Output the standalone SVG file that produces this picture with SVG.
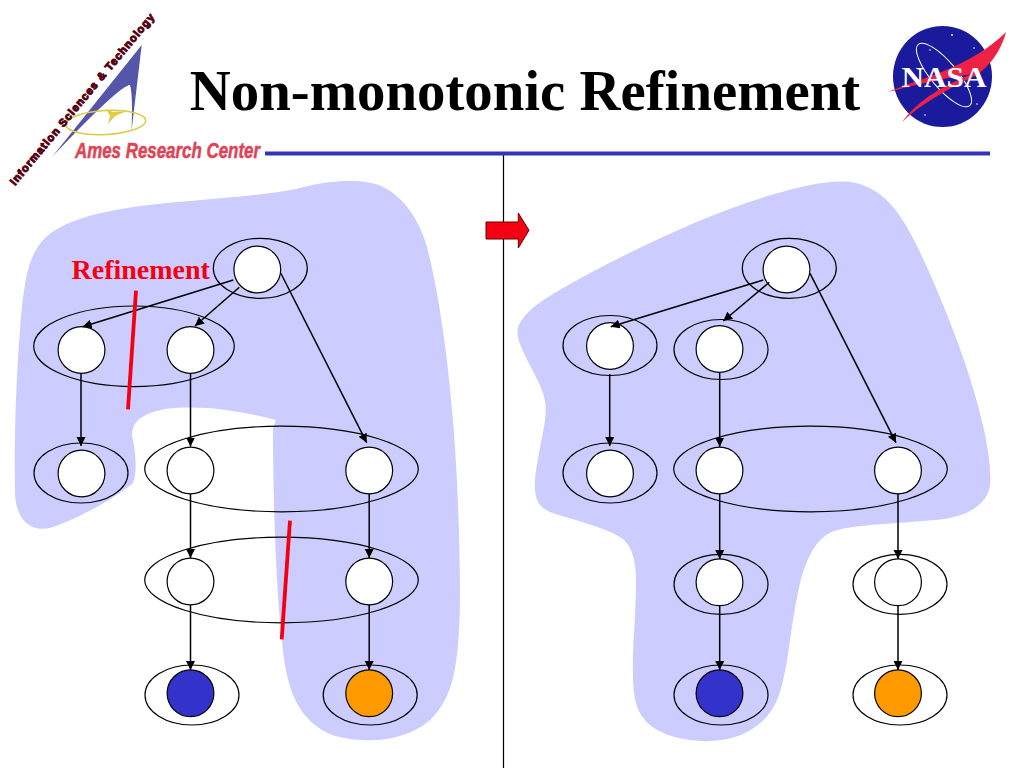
<svg xmlns="http://www.w3.org/2000/svg" width="1024" height="768" viewBox="0 0 1024 768">
<style>
.blob{fill:#ccccff;stroke:none}
.el{fill:none;stroke:#000;stroke-width:1.2}
.n{fill:#fff;stroke:#000;stroke-width:1.2}
.blue{fill:#3333cc}
.orange{fill:#ff9900}
.c{fill:none;stroke:#000;stroke-width:1.5;marker-end:url(#a)}
.red{stroke:#f40012;stroke-width:3.8;fill:none}
</style>
<defs><marker id="a" markerUnits="userSpaceOnUse" markerWidth="11" markerHeight="10" refX="9" refY="4.500" orient="auto"><path d="M0 0L9 4.500L0 9z" fill="#000"/></marker></defs>
<rect width="1024" height="768" fill="#fff"/>
<path class="blob" d="M276 420L273 428C273 500 276 590 282 640C286 690 298 722 335 736C370 745 410 740 432 718C452 697 459 670 460 600C460 540 457 460 452 410C447 350 438 290 427 247C418 215 400 195 383 187C365 178 330 180 300 188C280 193 240 197 167 203C120 208 70 215 45 238C28 255 24 280 20 330C16 380 14 440 15 495C17 520 30 532 50 528C80 518 115 498 133 483C138 470 135 450 132 435C132 420 145 413 165 409C205 404 245 412 276 420Z"/>
<path class="blob" d="M789 190Q743 202 693 223.500Q643 245 593 271.500Q543 298 530.500 310Q518 322 517.500 330Q517 338 522 349Q527 360 535 375Q543 390 545 401Q547 412 543.500 429.500Q540 447 536.500 467Q533 487 536.500 498.500Q540 510 558.500 515Q577 520 594.500 526Q612 532 620 537Q628 542 632 552.500Q636 563 636 581.500Q636 600 634 633.500Q632 667 633.500 688.500Q635 710 646 721.500Q657 733 678.500 738Q700 743 721.500 740Q743 737 758 725Q773 713 779 695Q785 677 789 647Q793 617 798 592Q803 567 811.500 552Q820 537 831.500 532Q843 527 876.500 524.500Q910 522 935 520Q960 518 973.500 509Q987 500 989.500 488.500Q992 477 987.500 448.500Q983 420 970 378.500Q957 337 933.500 282Q910 227 893.500 207.500Q877 188 856 183Q835 178 789 190Z"/>
<line x1="503.500" y1="155" x2="503.500" y2="768" stroke="#000" stroke-width="1.2"/>
<g id="title"><text x="525" y="110" font-family="'Liberation Serif',serif" font-weight="700" font-size="56.800" text-anchor="middle">Non-monotonic Refinement</text></g>
<line id="rule" x1="265" y1="153.500" x2="990" y2="153.500" stroke="#3333bb" stroke-width="4"/>
<g id="ames-logo">
<path d="M52 157L141.700 45L131.500 131Q133 95 130 85Q120 85 52 157Z" fill="#5555aa"/>
<ellipse cx="105.700" cy="122.500" rx="40" ry="12" fill="none" stroke="#ddcc44" stroke-width="1.600" transform="rotate(-3 105.700 122.500)"/>
<path d="M106 109L113 112L127 111L115 116L108 124L110 116Z" fill="#ddcc44"/>
<text x="75" y="158" font-family="'Liberation Sans',sans-serif" font-weight="700" font-style="italic" font-size="22" textLength="185" lengthAdjust="spacingAndGlyphs" fill="#dd4455" stroke="#dd4455" stroke-width=".5">Ames Research Center</text>
<text x="15" y="186" transform="rotate(-50.300 15 186)" font-family="'Liberation Sans',sans-serif" font-weight="700" font-size="11" textLength="219" lengthAdjust="spacing" fill="#550011" stroke="#550011" stroke-width="1">Information Sciences &amp; Technology</text>
</g>
<g id="nasa-logo">
<ellipse cx="942.500" cy="76.500" rx="49.500" ry="50.500" fill="#1a1a9c"/>
<ellipse cx="944" cy="75" rx="13" ry="40" fill="none" stroke="#fff" stroke-width="1" transform="rotate(-40 944 75)"/>
<path d="M888 92C920 78 970 68 1006 32C1000 55 985 70 975 76C945 90 920 105 902 122C920 98 945 85 972 74C945 78 915 85 888 92Z" fill="#ee2244"/>
<text x="901.500" y="87" font-family="'Liberation Serif',serif" font-weight="700" font-size="30" textLength="85" lengthAdjust="spacingAndGlyphs" fill="#fff">NASA</text>
<g fill="#fff"><circle cx="952" cy="35" r=".9"/><circle cx="930" cy="50" r=".8"/><circle cx="977" cy="104" r=".8"/><circle cx="925" cy="115" r=".8"/><circle cx="974" cy="48" r=".8"/></g>
</g>
<g id="left-1"><ellipse class="el" cx="260.300" cy="268.300" rx="47" ry="30"/><circle class="n" cx="257.300" cy="269.500" r="23.400"/></g>
<g id="left-2"><ellipse class="el" cx="134" cy="346.300" rx="100.300" ry="40.300"/><circle class="n" cx="81.500" cy="350" r="23.400"/><circle class="n" cx="190.500" cy="350" r="23.400"/></g>
<g id="left-3"><ellipse class="el" cx="81" cy="473" rx="47" ry="30"/><circle class="n" cx="81.500" cy="473.500" r="23.400"/></g>
<g id="left-4"><ellipse class="el" cx="281.500" cy="469" rx="136.800" ry="42.800"/><circle class="n" cx="190.500" cy="470.500" r="23.400"/><circle class="n" cx="369.200" cy="470.500" r="23.400"/></g>
<g id="left-5"><ellipse class="el" cx="281.500" cy="580" rx="136.800" ry="42.800"/><circle class="n" cx="190.500" cy="581.500" r="23.400"/><circle class="n" cx="369.200" cy="581.500" r="23.400"/></g>
<g id="left-6"><ellipse class="el" cx="192" cy="695" rx="47" ry="30"/><circle class="n blue" cx="190.500" cy="693.300" r="23.400"/></g>
<g id="left-7"><ellipse class="el" cx="370.200" cy="695" rx="47" ry="30"/><circle class="n orange" cx="369.200" cy="693.300" r="23.400"/></g>
<g id="right-1"><ellipse class="el" cx="789.300" cy="268.300" rx="47" ry="30"/><circle class="n" cx="786.500" cy="269.500" r="23.400"/></g>
<g id="right-2"><ellipse class="el" cx="610" cy="345.500" rx="47" ry="30"/><circle class="n" cx="610" cy="346" r="23.400"/></g>
<g id="right-3"><ellipse class="el" cx="721" cy="349.500" rx="47" ry="30"/><circle class="n" cx="719.500" cy="349" r="23.400"/></g>
<g id="right-4"><ellipse class="el" cx="610" cy="473" rx="47" ry="30"/><circle class="n" cx="610" cy="473.500" r="23.400"/></g>
<g id="right-5"><ellipse class="el" cx="810.500" cy="469" rx="136.800" ry="42.800"/><circle class="n" cx="719.500" cy="470.500" r="23.400"/><circle class="n" cx="898" cy="470.500" r="23.400"/></g>
<g id="right-6"><ellipse class="el" cx="721" cy="584.300" rx="47" ry="30"/><circle class="n" cx="719.500" cy="582.300" r="23.400"/></g>
<g id="right-7"><ellipse class="el" cx="900" cy="584.300" rx="47" ry="30"/><circle class="n" cx="898" cy="582.300" r="23.400"/></g>
<g id="right-8"><ellipse class="el" cx="721" cy="695" rx="47" ry="30"/><circle class="n blue" cx="719.500" cy="693.300" r="23.400"/></g>
<g id="right-9"><ellipse class="el" cx="900" cy="695" rx="47" ry="30"/><circle class="n orange" cx="898" cy="693.300" r="23.400"/></g>
<g id="connectors">
<path class="c" d="M233.300 280L82.700 326.700"/>
<path class="c" d="M239.300 287.300L195 326"/>
<path class="c" d="M280.700 273L366.700 442.700"/>
<path class="c" d="M81 374L81 446"/>
<path class="c" d="M190.500 374L190.500 446.500"/>
<path class="c" d="M190.500 494L190.500 558"/>
<path class="c" d="M369.200 494L369.200 558"/>
<path class="c" d="M190.500 605L190.500 670"/>
<path class="c" d="M369.200 605L369.200 670"/>
<path class="c" d="M763.300 280L610.700 326.700"/>
<path class="c" d="M769.300 282.300L723.300 321"/>
<path class="c" d="M810 273.300L896 442.700"/>
<path class="c" d="M609.700 374L609.700 446"/>
<path class="c" d="M719.700 372.700L719.700 446.700"/>
<path class="c" d="M719.700 494L719.700 559"/>
<path class="c" d="M898 494L898 559"/>
<path class="c" d="M719.700 605L719.700 670"/>
<path class="c" d="M898 605L898 670"/>
</g>
<g id="refinement-mark"><text x="71.500" y="278.500" font-family="'Liberation Serif',serif" font-weight="700" font-size="28" fill="#f40012">Refinement</text>
<line class="red" x1="136" y1="290.700" x2="128" y2="409.300"/>
<line class="red" x1="290" y1="520.700" x2="281.700" y2="639.300"/></g>
<path id="red-arrow" d="M486 222H518.300V213L529 230.300L518.300 248V239H486Z" fill="#f40012" stroke="#660000" stroke-width="1"/>
</svg>
